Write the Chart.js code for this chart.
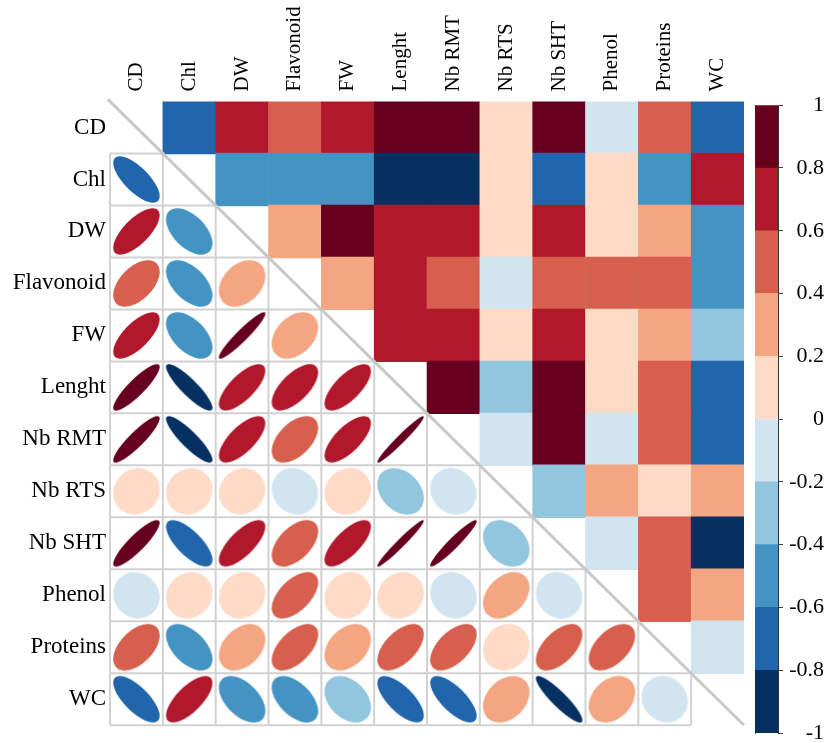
<!DOCTYPE html>
<html lang="en">
<head>
<meta charset="UTF-8">
<title>Correlation matrix</title>
<script src="https://cdn.jsdelivr.net/npm/chart.js"></script>
<style>
  body { margin: 0; background: #fff; }
  #wrap { position: relative; width: 838px; height: 743px; }
  #corrChart { position: absolute; left: 0; top: 0; }
  #scaleChart { position: absolute; left: 740px; top: 90px; }
</style>
</head>
<body>
<div id="wrap">
  <canvas id="corrChart" width="838" height="743"></canvas>
  <canvas id="scaleChart" width="98" height="660"></canvas>
</div>
<script>
// variables, in plot order
var variables = ['CD', 'Chl', 'DW', 'Flavonoid', 'FW', 'Lenght', 'Nb RMT', 'Nb RTS', 'Nb SHT', 'Phenol', 'Proteins', 'WC'];

// one row of the correlation matrix per variable
var rCD       = [ 1.00, -0.72,  0.70,  0.50,  0.70,  0.88,  0.90,  0.08,  0.88, -0.08,  0.50, -0.72];
var rChl      = [-0.72,  1.00, -0.52, -0.52, -0.52, -0.88, -0.88,  0.08, -0.72,  0.10, -0.52,  0.70];
var rDW       = [ 0.70, -0.52,  1.00,  0.32,  0.94,  0.72,  0.70,  0.08,  0.72,  0.10,  0.35, -0.50];
var rFlav     = [ 0.50, -0.52,  0.32,  1.00,  0.35,  0.65,  0.50, -0.10,  0.52,  0.55,  0.55, -0.52];
var rFW       = [ 0.70, -0.52,  0.94,  0.35,  1.00,  0.70,  0.70,  0.10,  0.72,  0.12,  0.35, -0.35];
var rLenght   = [ 0.88, -0.88,  0.72,  0.65,  0.70,  1.00,  0.97, -0.30,  0.97,  0.10,  0.55, -0.70];
var rNbRMT    = [ 0.90, -0.88,  0.70,  0.50,  0.70,  0.97,  1.00, -0.12,  0.95, -0.10,  0.55, -0.72];
var rNbRTS    = [ 0.08,  0.08,  0.08, -0.10,  0.10, -0.30, -0.12,  1.00, -0.30,  0.35,  0.10,  0.30];
var rNbSHT    = [ 0.88, -0.72,  0.72,  0.52,  0.72,  0.97,  0.95, -0.30,  1.00, -0.10,  0.55, -0.90];
var rPhenol   = [-0.08,  0.10,  0.10,  0.55,  0.12,  0.10, -0.10,  0.35, -0.10,  1.00,  0.50,  0.30];
var rProteins = [ 0.50, -0.52,  0.35,  0.55,  0.35,  0.55,  0.55,  0.10,  0.55,  0.50,  1.00, -0.10];
var rWC       = [-0.72,  0.70, -0.50, -0.52, -0.35, -0.70, -0.72,  0.30, -0.90,  0.30, -0.10,  1.00];

var matrix = [rCD, rChl, rDW, rFlav, rFW, rLenght, rNbRMT, rNbRTS, rNbSHT, rPhenol, rProteins, rWC];

// colour scale: ticks and one colour per 0.2 bin (RdBu)
var scaleTicks = [-1, -0.8, -0.6, -0.4, -0.2, 0, 0.2, 0.4, 0.6, 0.8, 1];
var palette = ['#053061', '#2166ac', '#4393c3', '#92c5de', '#d1e5f0',
               '#fddbc7', '#f4a582', '#d6604d', '#b2182b', '#67001f'];

Chart.defaults.font.family = "'Liberation Serif', 'Times New Roman', serif";
Chart.defaults.color = '#000';

function colorFor(v) {
    var i = Math.floor((v + 1) / 0.2 + 1e-9);
    if (i < 0) i = 0;
    if (i > palette.length - 1) i = palette.length - 1;
    return palette[i];
}

function cellPx(chart) {
    var x = chart.scales.x;
    return Math.abs(x.getPixelForValue(1) - x.getPixelForValue(0));
}

// corrplot style ellipse drawn into a small canvas used as point style
function ellipseImage(r, cs, color) {
    var size = Math.ceil(cs);
    var c = document.createElement('canvas');
    c.width = size; c.height = size;
    var g = c.getContext('2d');
    var k = 0.88 * cs;
    var a = Math.max(k * Math.sqrt(1 + r) / 2, 0.6);
    var b = Math.max(k * Math.sqrt(1 - r) / 2, 0.6);
    g.fillStyle = color;
    g.beginPath();
    g.ellipse(size / 2, size / 2, a, b, -Math.PI / 4, 0, 2 * Math.PI);
    g.fill();
    return c;
}

var upperPts = [], lowerPts = [];
matrix.forEach(function (row, i) {
    row.forEach(function (v, j) {
        if (j > i) upperPts.push({ x: j + 0.5, y: i + 0.5, v: v });
        else if (j < i) lowerPts.push({ x: j + 0.5, y: i + 0.5, v: v });
    });
});

// grid of the lower triangle + the diagonal line
var lowerGrid = {
    id: 'lowerGrid',
    beforeDatasetsDraw: function (chart) {
        var ctx = chart.ctx, x = chart.scales.x, y = chart.scales.y, n = variables.length;
        ctx.save();
        ctx.strokeStyle = '#d2d2d2';
        ctx.lineWidth = 2;
        ctx.beginPath();
        for (var k = 1; k <= n; k++) {
            var yy = y.getPixelForValue(k);
            ctx.moveTo(x.getPixelForValue(0), yy);
            ctx.lineTo(x.getPixelForValue(Math.min(k, n - 1)), yy);
        }
        for (var m = 0; m < n; m++) {
            var xx = x.getPixelForValue(m);
            ctx.moveTo(xx, y.getPixelForValue(Math.max(m, 1)));
            ctx.lineTo(xx, y.getPixelForValue(n));
        }
        ctx.stroke();
        ctx.restore();
    },
    afterDatasetsDraw: function (chart) {
        var ctx = chart.ctx, x = chart.scales.x, y = chart.scales.y, n = variables.length;
        ctx.save();
        ctx.strokeStyle = '#c8c8c8';
        ctx.lineWidth = 3;
        ctx.beginPath();
        ctx.moveTo(x.getPixelForValue(-0.04), y.getPixelForValue(-0.04));
        ctx.lineTo(x.getPixelForValue(n), y.getPixelForValue(n));
        ctx.stroke();
        ctx.restore();
    }
};

var topFont = { size: 21 };
var sideFont = { size: 23 };

var corrChart = new Chart(document.getElementById('corrChart'), {
    type: 'scatter',
    data: {
        datasets: [{
            label: 'upper',
            data: upperPts,
            pointStyle: 'rect',
            pointRadius: function (c) { return cellPx(c.chart) * Math.SQRT1_2 + 0.4; },
            pointBorderWidth: 0,
            pointBackgroundColor: function (c) { return c.raw ? colorFor(c.raw.v) : '#000'; }
        }, {
            label: 'lower',
            data: lowerPts,
            pointRadius: function (c) { return cellPx(c.chart) / 2; },
            pointBorderWidth: 0,
            pointStyle: function (c) {
                if (!c.raw) return 'circle';
                return ellipseImage(c.raw.v, cellPx(c.chart), colorFor(c.raw.v));
            }
        }]
    },
    options: {
        responsive: false,
        devicePixelRatio: 1,
        animation: false,
        events: [],
        layout: { padding: { left: 0, top: 0, right: 94, bottom: 6 } },
        plugins: { legend: { display: false }, tooltip: { enabled: false } },
        scales: {
            x: {
                type: 'linear', position: 'top', min: 0, max: variables.length,
                afterBuildTicks: function (s) { s.ticks = variables.map(function (v, i) { return { value: i + 0.5 }; }); },
                afterFit: function (s) { s.height = 101.5; },
                ticks: {
                    autoSkip: false, minRotation: 90, maxRotation: 90, padding: 10,
                    labelOffset: 25.2,
                    font: topFont, color: '#000',
                    callback: function (val, i) { return variables[i]; }
                },
                grid: { display: false, drawTicks: false },
                border: { display: false }
            },
            y: {
                type: 'linear', position: 'left', reverse: true, min: 0, max: variables.length,
                afterBuildTicks: function (s) { s.ticks = variables.map(function (v, i) { return { value: i + 0.5 }; }); },
                afterFit: function (s) { s.width = 110; },
                ticks: {
                    autoSkip: false, padding: 4,
                    font: sideFont, color: '#000',
                    callback: function (val, i) { return variables[i]; }
                },
                grid: { display: false, drawTicks: false },
                border: { display: false }
            }
        }
    },
    plugins: [lowerGrid]
});

// colour bar
var scaleChart = new Chart(document.getElementById('scaleChart'), {
    type: 'bar',
    data: {
        labels: [''],
        datasets: palette.map(function (col, i) {
            return {
                data: [[scaleTicks[i], scaleTicks[i + 1]]],
                backgroundColor: col,
                borderWidth: 0,
                categoryPercentage: 1,
                barPercentage: 1
            };
        })
    },
    options: {
        responsive: false,
        devicePixelRatio: 1,
        animation: false,
        events: [],
        layout: { padding: { left: 15, top: 13, right: 14, bottom: 17 } },
        plugins: { legend: { display: false }, tooltip: { enabled: false } },
        scales: {
            x: { display: false, stacked: true },
            y: {
                position: 'right', min: -1, max: 1,
                afterBuildTicks: function (s) { s.ticks = scaleTicks.map(function (v) { return { value: v }; }); },
                afterFit: function (s) { s.width = 46; },
                ticks: {
                    padding: 2, crossAlign: 'far', font: { size: 22 }, color: '#000',
                    callback: function (v) { return String(+v.toFixed(1)); }
                },
                grid: { drawOnChartArea: false, tickLength: 5, color: '#444' },
                border: { display: true, color: '#333', width: 1 }
            },
            yl: {
                position: 'left', min: -1, max: 1,
                afterFit: function (s) { s.width = 0; },
                ticks: { display: false },
                grid: { display: false, drawTicks: false },
                border: { display: true, color: '#555', width: 1 }
            }
        }
    }
});
</script>
</body>
</html>
